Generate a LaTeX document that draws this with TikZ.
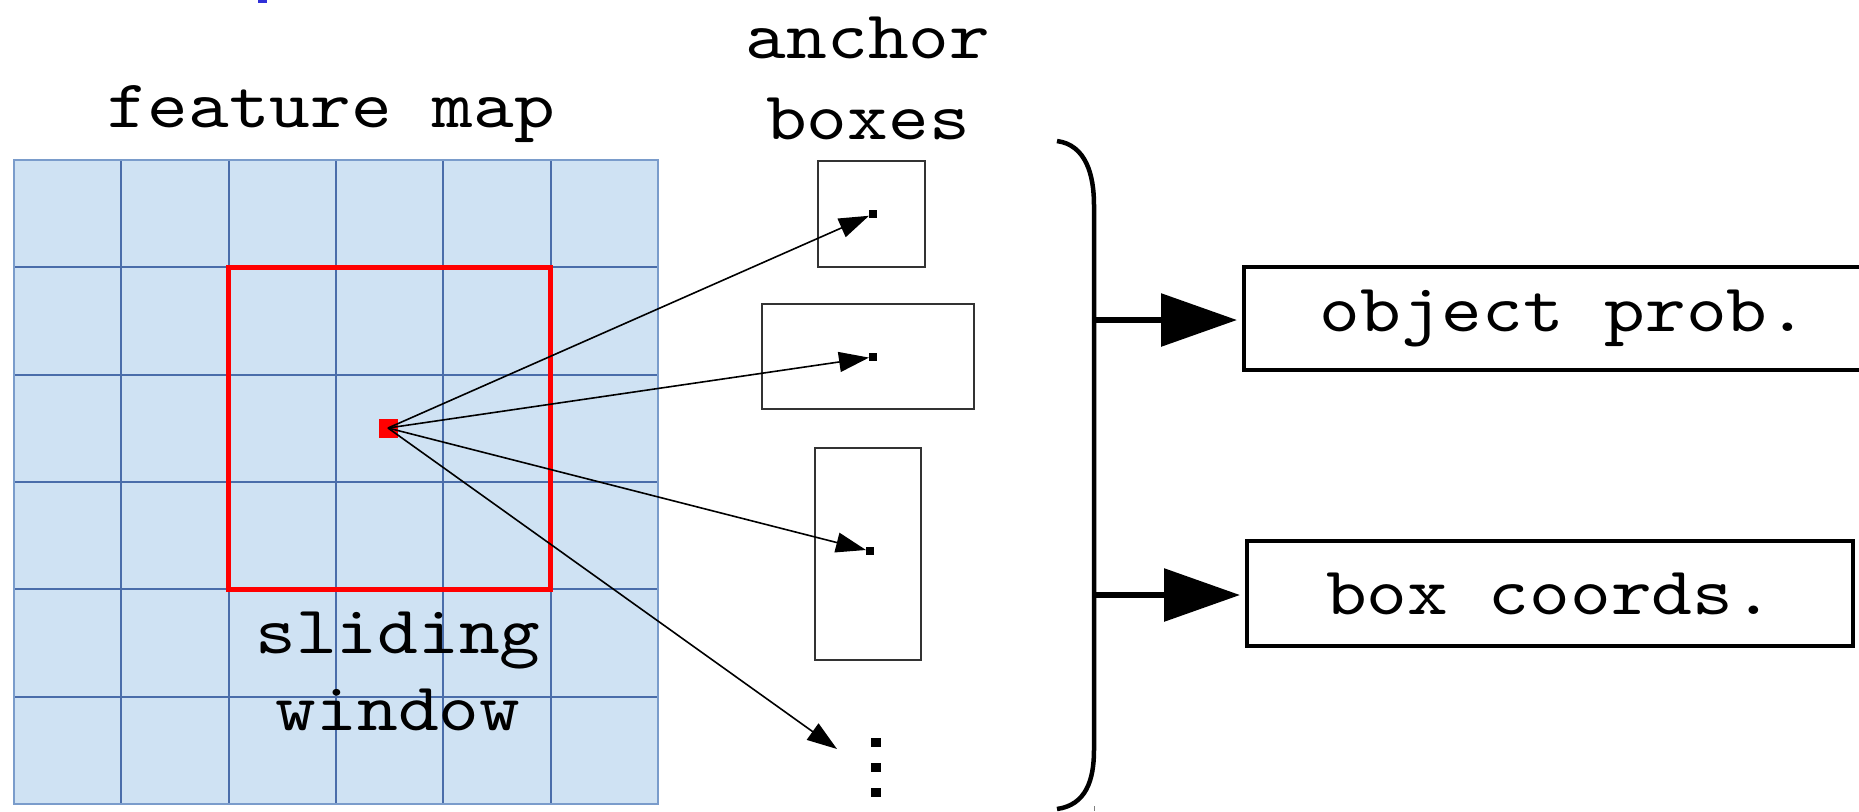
\documentclass[tikz,border=0pt]{standalone}
\usepackage{fontspec}
\newfontfamily\labelfont[FakeStretch=1.14]{lmmono10-regular.otf}
\usetikzlibrary{arrows.meta}
\definecolor{cellfill}{HTML}{CFE2F3}
\definecolor{cellline}{HTML}{4A6DAA}
\definecolor{celledge}{HTML}{7A9CCB}
\definecolor{boxgray}{HTML}{333333}
\definecolor{fragblue}{HTML}{3030D8}
\begin{document}
\begin{tikzpicture}[x=0.5pt,y=-0.5pt,
  txt/.style={font=\labelfont\fontsize{34pt}{40pt}\selectfont, inner sep=0pt, anchor=base},
  anchorbox/.style={draw=boxgray, line width=1pt, inner sep=0pt, outer sep=0pt},
  tgt/.style={fill=black, inner sep=0pt, outer sep=0pt, minimum size=4pt},
  ellipdot/.style={fill=black, inner sep=0pt, minimum width=5pt, minimum height=4.5pt},
  ray/.style={line width=0.8pt, -{Triangle[length=15pt,width=10pt]}},
  outbox/.style={draw=black, line width=2.25pt, inner sep=0pt, outer sep=0pt,
    font=\labelfont\fontsize{34pt}{40pt}\selectfont},
  bigarrow/.style={line width=3pt, -{Triangle[length=38pt,width=26pt]}, shorten >=3.5pt},
]
\useasboundingbox (0,0) rectangle (1859,811);
\clip (0,0) rectangle (1859,811);

% stray fragment at the top edge
\fill[fragblue] (258,0) rectangle (267,2.5);

% feature map grid (6 x 6 cells)
\fill[cellfill] (14,160) rectangle (658,804);
\foreach \i in {1,...,5} {
  \draw[cellline, line width=1pt] ({14+107.33*\i},160) -- ({14+107.33*\i},804);
  \draw[cellline, line width=1pt] (14,{160+107.33*\i}) -- (658,{160+107.33*\i});
}
\draw[celledge, line width=1pt] (14,160) rectangle (658,804);

% sliding window and its centre cell
\draw[red, line width=2.25pt] (228.7,267.3) rectangle (550.7,589.3);
\node[fill=red, minimum size=9.5pt, inner sep=0pt] (rdot) at (388,428) {};

% labels
\node[txt] (fmlabel) at (331,127) {feature map};
\node[txt] (ablabelA) at (868,58) {anchor};
\node[txt] (ablabelB) at (868,139) {boxes};
\node[txt] (swA) at (398,653) {sliding};
\node[txt] (swB) at (398,730) {window};

% anchor boxes
\node[anchorbox, minimum width=53.5pt, minimum height=53pt] (ab1) at (871.5,214) {};
\node[anchorbox, minimum width=106pt, minimum height=52.5pt] (ab2) at (868,356.5) {};
\node[anchorbox, minimum width=53pt, minimum height=106pt] (ab3) at (868,554) {};
\node[tgt] (d1) at (873,214) {};
\node[tgt] (d2) at (873,357) {};
\node[tgt] (d3) at (870,551) {};

% vertical ellipsis
\node[ellipdot] (m1) at (876,742) {};
\node[ellipdot] (m2) at (876,767) {};
\node[ellipdot] (m3) at (876,792) {};
\coordinate (moretip) at (837,749);

% rays from the window centre
\draw[ray] (rdot.center) -- (d1);
\draw[ray] (rdot.center) -- (d2);
\draw[ray] (rdot.center) -- (d3);
\draw[ray] (rdot.center) -- (moretip);

% brace
\draw[line width=2.25pt] (1057,141) .. controls (1086,145) and (1094,175) .. (1094,205)
  -- (1094,750) .. controls (1094,780) and (1086,805) .. (1057,809);
\draw[gray, line width=0.5pt] (1094.5,806) -- (1094.5,811);
\coordinate (br1) at (1094,320);
\coordinate (br2) at (1094,595);

% outputs
\node[outbox, minimum width=320pt, minimum height=51.5pt] (prob) at (1564,318.5) {object prob.};
\node[outbox, minimum width=303pt, minimum height=52.5pt] (coords) at (1550,593.5) {box coords.};
\draw[bigarrow] (br1) -- (br1 -| prob.west);
\draw[bigarrow] (br2) -- (br2 -| coords.west);
\end{tikzpicture}
\end{document}
